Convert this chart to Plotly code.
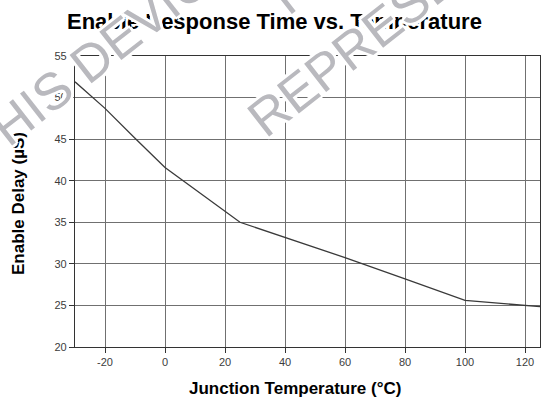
import plotly.graph_objects as go

# ---- data ----
temperature_c = [-30, -20, -10, 0, 25, 40, 60, 80, 100, 125]
enable_delay_us = [51.9, 48.7, 45.1, 41.6, 35.0, 33.2, 30.75, 28.2, 25.6, 24.85]

x_tick_vals = [-20, 0, 20, 40, 60, 80, 100, 120]
x_tick_text = ["-20", "0", "20", "40", "60", "80", "100", "120"]
y_tick_vals = [20, 25, 30, 35, 40, 45, 50, 55]
y_tick_text = ["20", "25", "30", "35", "40", "45", "50", "55"]

title_text = "Enable Response Time vs. Temperature"
x_title = "Junction Temperature (°C)"
y_title = "Enable Delay (µS)"
watermark_lines = ["THIS DEVICE", "PRELIMINARY", "REPRESENT"]

# ---- layout geometry ----
W, H = 541, 401
L, R, T, B = 75, 1, 56, 54
PW, PH = W - L - R, H - T - B


def px(x):
    return (x - L) / PW


def py(y):
    return (H - B - y) / PH


FONT = "Liberation Sans, Arial, Helvetica, sans-serif"

fig = go.Figure()
fig.add_trace(go.Scatter(
    x=temperature_c, y=enable_delay_us, mode="lines",
    line=dict(color="#3a3a3a", width=1.3),
    hoverinfo="skip", showlegend=False, cliponaxis=False,
))

axis_common = dict(
    showline=True, linecolor="#333333", linewidth=1.3, mirror=True,
    ticks="outside", ticklen=5, tickcolor="#333333", tickwidth=1,
    showgrid=True, gridcolor="#707070", gridwidth=1,
    zeroline=False,
    tickfont=dict(family=FONT, size=11, color="#3c3c3c"),
)

fig.update_xaxes(range=[-30, 125], tickmode="array",
                 tickvals=x_tick_vals, ticktext=x_tick_text, **axis_common)
fig.update_yaxes(range=[20, 55], tickmode="array",
                 tickvals=y_tick_vals, ticktext=y_tick_text, **axis_common)

annotations = [
    dict(text=title_text, x=px(274), y=py(21.5), xref="paper", yref="paper",
         showarrow=False, xanchor="center", yanchor="middle",
         font=dict(family=FONT, size=22, color="#000000", weight="bold")),
    dict(text=x_title, x=px(295), y=py(388), xref="paper", yref="paper",
         showarrow=False, xanchor="center", yanchor="middle",
         font=dict(family=FONT, size=17, color="#000000", weight="bold")),
    dict(text=y_title, x=px(18), y=py(204), xref="paper", yref="paper",
         showarrow=False, xanchor="center", yanchor="middle", textangle=-90,
         font=dict(family=FONT, size=17, color="#000000", weight="bold")),
]

halo = ("3px 0 0 #fff, -3px 0 0 #fff, 0 3px 0 #fff, 0 -3px 0 #fff, "
        "2px 2px 0 #fff, -2px -2px 0 #fff, 2px -2px 0 #fff, -2px 2px 0 #fff")
wm_centers = [(101, 53), (416, -106), (380, 27)]
for txt, (cx, cy) in zip(watermark_lines, wm_centers):
    annotations.append(dict(
        text=txt, x=px(cx), y=py(cy), xref="paper", yref="paper",
        showarrow=False, xanchor="center", yanchor="middle", textangle=-38,
        font=dict(family=FONT, size=52, color="#b9b9be", shadow=halo),
    ))

fig.update_layout(
    width=W, height=H,
    margin=dict(l=L, r=R, t=T, b=B, pad=0),
    paper_bgcolor="#ffffff", plot_bgcolor="#ffffff",
    annotations=annotations,
    showlegend=False,
)

fig.write_html(
    "out.html",
    config={"displayModeBar": False},
    post_script="document.body.style.margin='0';document.body.style.overflow='hidden';",
)
